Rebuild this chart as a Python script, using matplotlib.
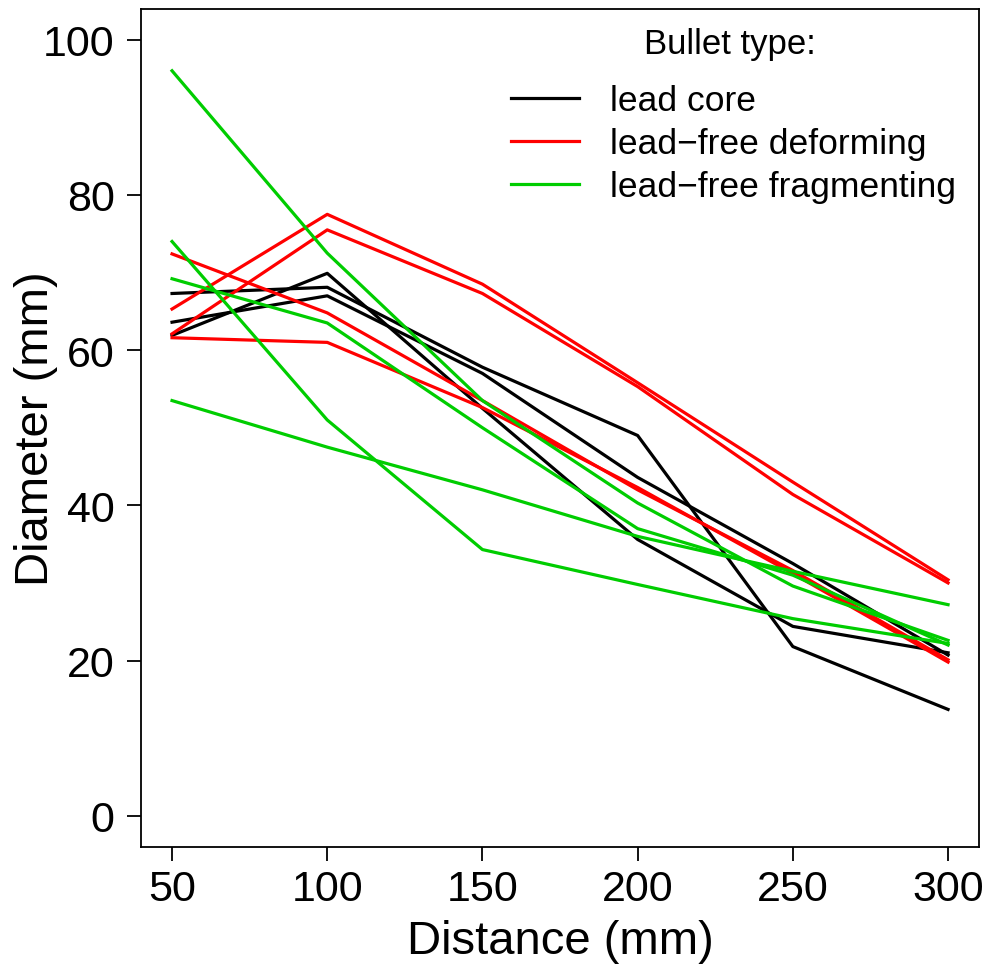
import matplotlib.pyplot as plt
from matplotlib.lines import Line2D

plt.rcParams['font.family'] = ['Liberation Sans', 'DejaVu Sans']

distance = [50, 100, 150, 200, 250, 300]

# diameter (mm) per shot, grouped by bullet type
lead_core = [
    [67.3, 68.1, 57.8, 49.0, 21.8, 13.7],
    [63.6, 67.0, 57.0, 43.6, 32.5, 20.7],
    [61.9, 69.9, 52.5, 35.6, 24.4, 21.0],
]
lead_free_deforming = [
    [65.3, 77.5, 68.5, 55.8, 43.0, 30.4],
    [62.1, 75.5, 67.3, 55.3, 41.4, 30.0],
    [72.4, 64.8, 53.5, 42.0, 31.6, 20.1],
    [61.6, 61.0, 52.6, 42.3, 31.2, 19.8],
]
lead_free_fragmenting = [
    [96.0, 72.5, 53.5, 40.3, 29.6, 22.6],
    [74.0, 51.0, 34.3, 29.8, 25.4, 22.2],
    [69.2, 63.5, 50.0, 37.0, 31.0, 22.0],
    [53.5, 47.5, 42.0, 36.0, 31.5, 27.2],
]

type_labels = ['lead core', 'lead\u2212free deforming', 'lead\u2212free fragmenting']
type_colors = ['black', '#FF0000', '#00CD00']

fig = plt.figure(figsize=(9.86, 9.7), dpi=100)
ax = fig.add_axes([0.143, 0.126, 0.850, 0.864])

groups = [lead_core, lead_free_deforming, lead_free_fragmenting]
for series, col in zip(groups, type_colors):
    for vals in series:
        ax.plot(distance, vals, color=col, lw=2.3)

ax.set_xlim(40, 310)
ax.set_ylim(-4, 104)
ax.set_xticks(distance)
ax.set_yticks([0, 20, 40, 60, 80, 100])
ax.tick_params(labelsize=31, length=10, width=1.3, direction='out')
ax.tick_params(axis='y', pad=9)
ax.tick_params(axis='x', pad=6)
for sp in ax.spines.values():
    sp.set_linewidth(1.3)

ax.set_xlabel('Distance (mm)', fontsize=34)
ax.set_ylabel('Diameter (mm)', fontsize=34)
ax.xaxis.set_label_coords(0.5, -0.086)
ax.yaxis.set_label_coords(-0.099, 0.5)

# legend title drawn on its own so the gap below it matches
ax.text(0.7025, 0.959, 'Bullet type:', transform=ax.transAxes,
        ha='center', va='center', fontsize=25)
handles = [Line2D([0], [0], color=c, lw=2.3) for c in type_colors]
leg = ax.legend(handles, type_labels, frameon=False, loc='upper left',
                bbox_to_anchor=(0.4206, 0.9307), borderpad=0, fontsize=25.5,
                handlelength=1.9, handletextpad=0.9, labelspacing=0.28)

fig.savefig('out.png', dpi=100)
